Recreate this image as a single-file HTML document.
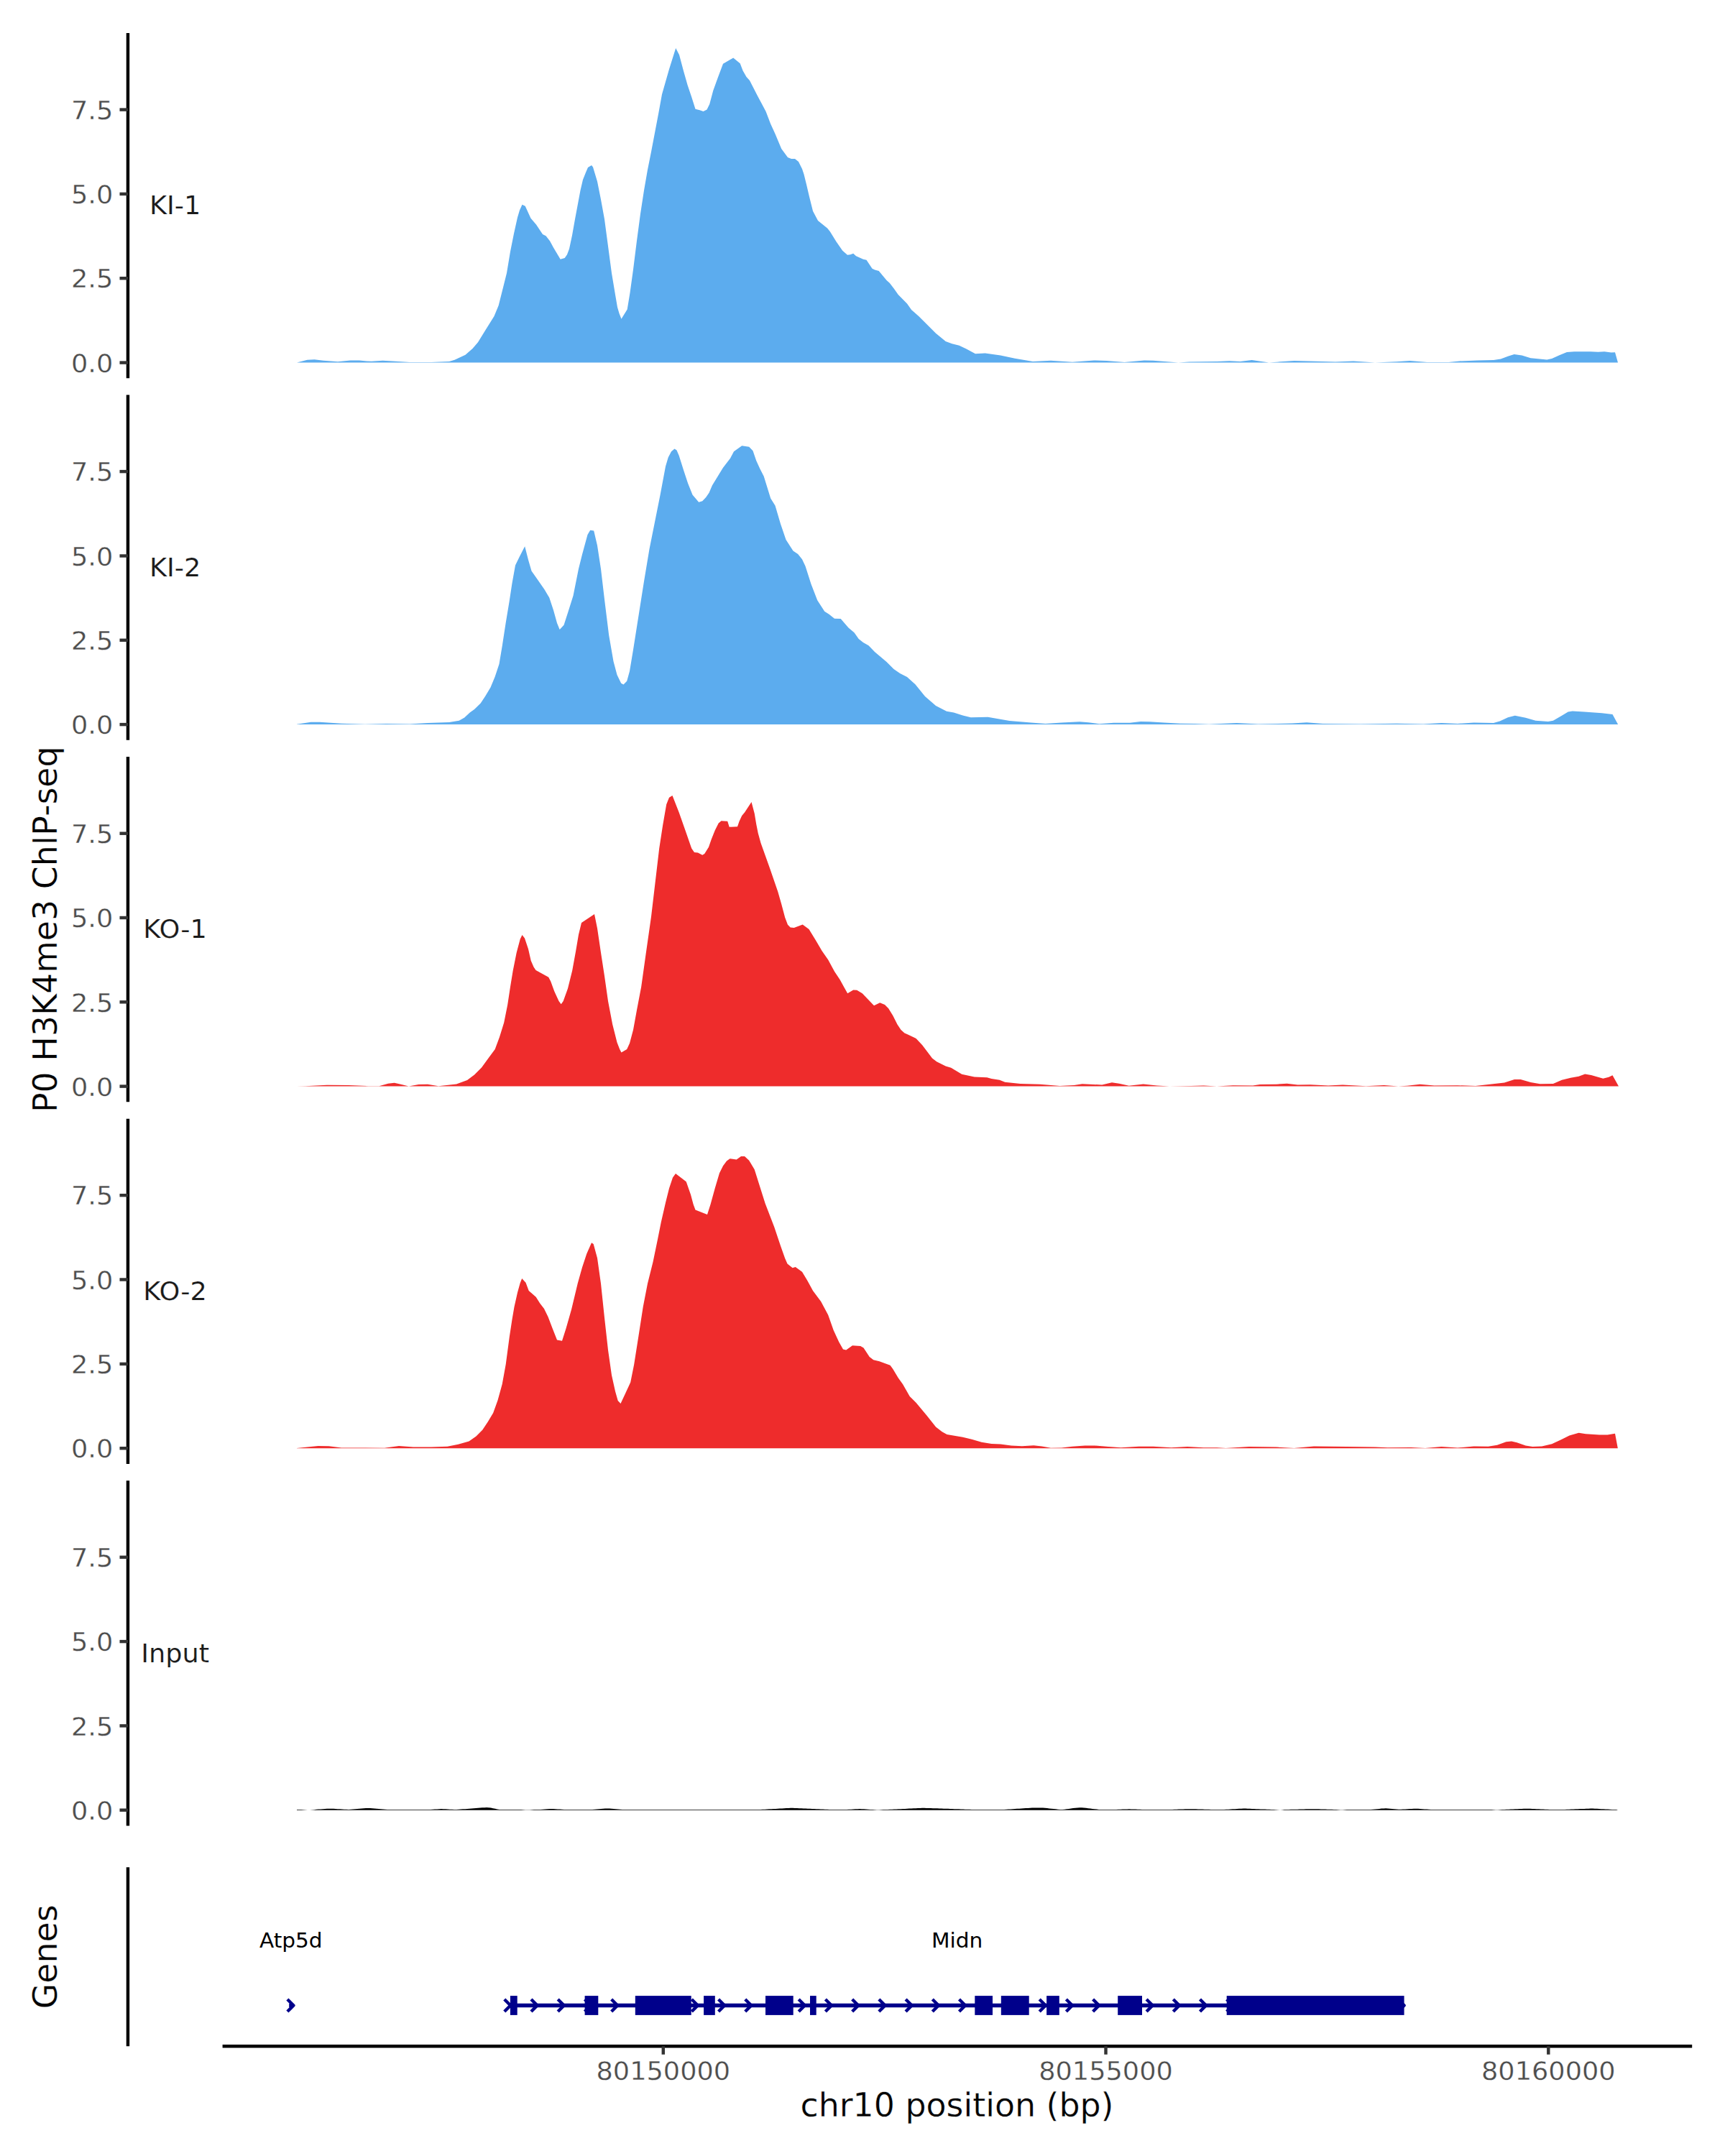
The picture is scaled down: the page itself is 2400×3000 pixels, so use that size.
<!DOCTYPE html>
<html lang="en"><head><meta charset="utf-8"><title>P0 H3K4me3 ChIP-seq coverage chr10</title>
<style>html,body{margin:0;padding:0;background:#fff}svg{display:block}text{font-family:"DejaVu Sans","Liberation Sans",sans-serif;stroke:#fff;stroke-width:0.3px;paint-order:fill stroke}</style></head><body>
<svg width="2400" height="3000" viewBox="0 0 2400 3000">
<rect width="2400" height="3000" fill="#fff"/>
<g id="track-KI-1">
<path d="M413.0 504.6 L413.0 504.5 L427.5 500.7 L437.5 500.2 L450.0 501.7 L470.0 503.2 L487.5 501.5 L500.0 501.5 L510.0 502.5 L517.0 502.7 L532.5 501.7 L550.0 502.7 L570.0 504.0 L600.0 504.0 L625.0 503.0 L632.5 500.7 L647.5 493.7 L657.5 485.0 L665.0 476.2 L675.0 460.0 L687.5 440.0 L693.7 425.0 L700.0 400.0 L705.0 380.0 L710.0 350.0 L715.0 325.0 L720.0 302.5 L723.0 292.5 L726.5 284.7 L730.7 286.7 L738.5 303.7 L746.0 312.5 L755.0 326.0 L759.5 328.2 L765.0 335.2 L770.0 344.5 L779.7 360.7 L785.7 359.0 L789.0 354.2 L792.0 346.2 L796.0 327.5 L800.0 305.0 L807.5 265.0 L811.0 250.0 L815.0 240.0 L818.0 233.0 L823.0 230.0 L825.0 232.5 L829.5 247.5 L831.0 252.5 L836.0 277.5 L841.0 305.0 L846.0 342.5 L851.0 380.0 L856.0 410.0 L859.0 427.5 L861.5 436.0 L864.5 443.7 L872.7 430.5 L876.5 407.5 L881.0 375.0 L886.0 335.0 L891.0 297.5 L896.0 265.0 L901.0 236.2 L906.0 211.2 L911.0 185.0 L916.0 158.7 L921.0 131.2 L931.0 96.2 L940.2 67.0 L945.0 76.2 L951.0 98.7 L956.7 118.7 L962.2 135.0 L967.5 151.7 L973.5 153.2 L978.5 155.0 L983.5 152.5 L987.2 145.0 L992.2 126.2 L998.5 108.7 L1006.0 88.7 L1020.2 80.5 L1029.7 88.2 L1033.5 98.2 L1038.5 107.0 L1043.0 112.0 L1053.5 132.5 L1065.5 155.0 L1072.2 172.5 L1078.5 186.2 L1087.2 207.0 L1096.0 219.0 L1101.0 221.0 L1106.0 221.0 L1111.0 225.0 L1116.0 235.0 L1118.5 242.5 L1122.2 257.5 L1126.0 273.7 L1131.0 293.7 L1138.0 307.0 L1151.0 317.5 L1154.7 322.0 L1163.5 336.2 L1172.2 348.7 L1179.0 354.7 L1183.0 354.2 L1187.2 352.7 L1191.0 356.2 L1201.0 360.7 L1205.5 361.7 L1213.5 373.7 L1217.2 375.5 L1222.7 377.0 L1233.5 390.0 L1237.7 393.7 L1243.5 401.2 L1249.7 410.0 L1262.0 422.5 L1268.2 431.2 L1278.2 440.0 L1292.0 453.7 L1302.0 463.7 L1315.7 475.0 L1324.5 478.2 L1334.5 480.7 L1344.5 485.5 L1357.0 492.2 L1370.7 491.5 L1392.0 494.5 L1412.0 498.7 L1437.0 503.0 L1462.0 501.7 L1492.0 503.7 L1522.0 501.5 L1539.5 502.0 L1564.5 504.0 L1592.0 501.5 L1604.5 501.7 L1639.5 504.5 L1654.5 503.5 L1693.0 503.0 L1710.5 502.2 L1725.5 503.0 L1741.7 501.0 L1765.5 504.5 L1800.5 502.0 L1830.5 502.7 L1858.0 503.5 L1883.0 502.5 L1913.0 504.5 L1943.0 503.2 L1961.7 502.0 L1985.5 504.0 L2015.5 504.0 L2030.5 502.5 L2055.5 501.5 L2078.0 501.0 L2088.0 499.5 L2098.0 495.7 L2106.7 493.0 L2117.4 494.4 L2129.6 498.3 L2152.2 500.5 L2159.1 499.1 L2169.6 494.3 L2180.0 490.1 L2190.4 489.2 L2213.0 489.2 L2223.5 489.7 L2232.2 489.2 L2241.7 490.6 L2247.0 490.3 L2251.0 504.4 L2251.0 504.6 Z" fill="#5CACEE"/>
<line x1="177.95" x2="177.95" y1="46.1" y2="526.3" stroke="#000" stroke-width="4.45"/>
<line x1="166.49" x2="177.95" y1="504.6" y2="504.6" stroke="#333" stroke-width="4.45"/>
<text transform="translate(157.3 517.8) scale(1 0.96)" font-size="36.67" fill="#4D4D4D" text-anchor="end">0.0</text>
<line x1="166.49" x2="177.95" y1="387.2" y2="387.2" stroke="#333" stroke-width="4.45"/>
<text transform="translate(157.3 400.4) scale(1 0.96)" font-size="36.67" fill="#4D4D4D" text-anchor="end">2.5</text>
<line x1="166.49" x2="177.95" y1="269.9" y2="269.9" stroke="#333" stroke-width="4.45"/>
<text transform="translate(157.3 283.1) scale(1 0.96)" font-size="36.67" fill="#4D4D4D" text-anchor="end">5.0</text>
<line x1="166.49" x2="177.95" y1="152.6" y2="152.6" stroke="#333" stroke-width="4.45"/>
<text transform="translate(157.3 165.8) scale(1 0.96)" font-size="36.67" fill="#4D4D4D" text-anchor="end">7.5</text>
<text transform="translate(243.6 298.4) scale(1 0.96)" style="stroke-width:0.15px" font-size="36.67" fill="#1A1A1A" text-anchor="middle">KI-1</text>
</g>
<g id="track-KI-2">
<path d="M413.0 1008.1 L413.0 1007.7 L432.5 1004.7 L445.0 1004.7 L475.0 1006.7 L507.5 1007.7 L537.5 1007.0 L570.0 1007.5 L595.0 1006.0 L625.0 1005.0 L638.7 1002.7 L646.2 998.5 L653.7 991.5 L660.0 987.0 L668.7 978.5 L675.0 969.0 L682.5 956.5 L688.7 941.5 L694.5 924.0 L698.7 899.0 L703.7 866.5 L708.7 836.5 L712.5 811.5 L717.0 786.5 L722.5 775.2 L730.2 760.2 L735.0 779.0 L739.5 794.5 L746.2 804.0 L757.5 820.2 L764.2 831.5 L770.0 849.0 L775.0 867.0 L778.7 876.0 L784.5 869.7 L790.0 852.7 L797.5 829.0 L805.0 791.5 L810.0 771.5 L817.5 744.0 L821.2 737.7 L826.2 738.5 L831.0 759.0 L836.0 791.5 L841.0 834.0 L847.2 884.0 L853.5 920.2 L858.5 939.0 L864.2 950.7 L867.5 952.5 L872.2 947.7 L876.0 934.0 L881.0 904.0 L888.5 856.5 L896.0 809.0 L903.5 764.0 L911.0 726.5 L918.5 689.0 L926.0 649.0 L929.7 636.5 L934.0 628.2 L938.5 624.5 L941.5 626.5 L944.7 634.0 L951.0 654.0 L957.2 672.7 L963.5 688.5 L972.2 698.7 L977.2 697.2 L982.2 692.0 L986.5 685.7 L991.0 675.2 L1006.0 650.7 L1016.0 637.7 L1021.0 628.2 L1032.2 620.2 L1042.2 621.7 L1047.5 627.2 L1052.2 641.0 L1057.2 652.0 L1062.7 662.7 L1072.2 693.5 L1078.5 703.5 L1086.0 729.0 L1093.5 751.0 L1103.5 766.5 L1110.2 771.0 L1116.0 778.2 L1120.5 787.7 L1128.5 812.7 L1137.2 835.2 L1147.2 850.7 L1153.5 854.7 L1161.0 860.7 L1169.7 861.0 L1180.5 873.5 L1188.5 880.2 L1194.7 889.0 L1201.0 894.0 L1208.5 898.2 L1217.2 907.2 L1233.5 921.0 L1243.5 931.0 L1252.2 937.0 L1262.0 942.0 L1273.2 952.0 L1287.0 969.0 L1302.0 982.0 L1317.0 989.7 L1327.0 991.5 L1339.5 995.5 L1350.7 998.2 L1374.5 997.7 L1404.5 1003.0 L1434.5 1005.5 L1454.5 1007.0 L1477.0 1005.5 L1502.0 1004.2 L1514.5 1005.2 L1529.5 1007.2 L1549.5 1005.7 L1572.0 1005.7 L1587.0 1004.0 L1599.5 1004.2 L1619.5 1005.5 L1642.0 1006.7 L1662.0 1007.0 L1682.0 1007.8 L1693.0 1007.2 L1720.5 1006.0 L1750.5 1007.5 L1798.0 1006.5 L1818.0 1005.2 L1840.5 1007.0 L1893.0 1007.5 L1943.0 1006.7 L1980.5 1007.5 L2005.5 1006.0 L2028.0 1007.0 L2050.5 1005.5 L2078.0 1006.0 L2086.7 1003.5 L2098.0 998.2 L2107.8 995.7 L2122.6 998.8 L2136.5 1002.8 L2153.9 1004.0 L2160.9 1002.8 L2173.0 995.8 L2181.7 990.6 L2187.8 989.4 L2204.3 990.6 L2228.7 992.2 L2243.5 994.1 L2251.0 1007.8 L2251.0 1008.1 Z" fill="#5CACEE"/>
<line x1="177.95" x2="177.95" y1="549.6" y2="1029.8" stroke="#000" stroke-width="4.45"/>
<line x1="166.49" x2="177.95" y1="1008.1" y2="1008.1" stroke="#333" stroke-width="4.45"/>
<text transform="translate(157.3 1021.3) scale(1 0.96)" font-size="36.67" fill="#4D4D4D" text-anchor="end">0.0</text>
<line x1="166.49" x2="177.95" y1="890.8" y2="890.8" stroke="#333" stroke-width="4.45"/>
<text transform="translate(157.3 904.0) scale(1 0.96)" font-size="36.67" fill="#4D4D4D" text-anchor="end">2.5</text>
<line x1="166.49" x2="177.95" y1="773.5" y2="773.5" stroke="#333" stroke-width="4.45"/>
<text transform="translate(157.3 786.7) scale(1 0.96)" font-size="36.67" fill="#4D4D4D" text-anchor="end">5.0</text>
<line x1="166.49" x2="177.95" y1="656.1" y2="656.1" stroke="#333" stroke-width="4.45"/>
<text transform="translate(157.3 669.3) scale(1 0.96)" font-size="36.67" fill="#4D4D4D" text-anchor="end">7.5</text>
<text transform="translate(243.6 801.9) scale(1 0.96)" style="stroke-width:0.15px" font-size="36.67" fill="#1A1A1A" text-anchor="middle">KI-2</text>
</g>
<g id="track-KO-1">
<path d="M413.0 1511.6 L413.0 1511.4 L425.0 1511.2 L455.0 1509.7 L485.0 1510.0 L512.5 1511.2 L527.5 1511.2 L540.0 1507.7 L548.7 1506.7 L557.5 1508.7 L568.7 1511.4 L582.5 1509.0 L595.0 1508.7 L610.0 1511.2 L635.0 1508.5 L650.0 1503.0 L660.0 1495.5 L670.0 1485.5 L680.0 1471.7 L688.7 1460.0 L695.0 1443.0 L701.2 1423.0 L706.2 1398.0 L710.0 1373.0 L713.7 1350.5 L718.7 1325.5 L723.7 1306.7 L726.5 1301.0 L730.0 1305.5 L735.0 1320.5 L738.7 1336.7 L742.5 1345.5 L745.5 1350.0 L763.2 1359.7 L766.2 1365.5 L771.2 1379.2 L777.5 1393.0 L780.7 1397.2 L783.7 1393.0 L790.0 1375.5 L796.2 1350.5 L801.2 1323.0 L805.0 1300.5 L809.0 1284.0 L827.0 1272.0 L831.0 1291.7 L836.0 1325.5 L841.0 1358.0 L846.0 1393.0 L852.2 1425.5 L858.5 1450.5 L862.2 1460.0 L864.5 1464.5 L872.2 1460.0 L876.0 1451.7 L881.0 1433.0 L886.0 1405.5 L892.2 1373.0 L898.5 1328.0 L906.0 1275.5 L912.2 1223.0 L917.2 1180.5 L922.2 1148.0 L927.2 1119.2 L931.0 1109.7 L935.5 1107.0 L944.7 1130.5 L953.5 1155.5 L962.2 1180.5 L966.0 1186.0 L971.0 1186.5 L977.2 1189.7 L980.2 1188.0 L986.0 1178.7 L989.7 1168.0 L994.7 1155.5 L999.7 1145.5 L1003.5 1142.2 L1012.2 1142.7 L1014.7 1150.7 L1026.0 1150.2 L1028.5 1143.0 L1032.2 1135.0 L1036.0 1130.5 L1045.5 1116.0 L1049.7 1131.7 L1052.2 1146.7 L1054.7 1159.2 L1058.5 1173.0 L1071.0 1208.0 L1082.2 1240.5 L1087.2 1258.0 L1092.2 1276.7 L1096.0 1286.7 L1099.7 1290.5 L1104.7 1291.0 L1116.7 1286.5 L1125.5 1293.0 L1134.7 1308.0 L1143.5 1323.0 L1152.2 1335.5 L1161.0 1351.7 L1168.5 1363.0 L1174.7 1374.2 L1179.2 1382.2 L1187.2 1377.5 L1192.2 1377.7 L1199.7 1382.2 L1216.0 1399.2 L1224.2 1395.2 L1231.0 1398.0 L1236.0 1403.0 L1242.2 1413.0 L1248.5 1425.5 L1253.5 1433.0 L1258.5 1437.5 L1262.0 1439.0 L1274.5 1445.0 L1283.2 1454.2 L1297.0 1472.5 L1303.2 1477.2 L1315.7 1483.5 L1323.2 1485.7 L1338.2 1494.7 L1355.7 1498.5 L1373.2 1499.2 L1379.5 1501.0 L1390.7 1502.7 L1398.2 1505.7 L1419.5 1508.0 L1447.0 1508.7 L1474.5 1511.0 L1494.5 1510.0 L1505.7 1508.2 L1533.2 1509.5 L1547.0 1506.2 L1557.0 1507.7 L1570.7 1510.7 L1590.7 1508.5 L1609.5 1510.5 L1627.0 1511.4 L1657.0 1511.0 L1674.5 1510.5 L1693.0 1511.4 L1715.5 1510.2 L1743.0 1510.5 L1753.0 1509.0 L1775.5 1508.7 L1790.5 1507.7 L1805.5 1509.5 L1823.0 1509.2 L1848.0 1510.5 L1868.0 1509.5 L1900.5 1511.2 L1925.5 1510.0 L1945.5 1511.4 L1958.0 1510.7 L1975.5 1508.7 L1995.5 1510.5 L2028.0 1510.2 L2053.0 1511.0 L2073.0 1508.7 L2093.0 1506.5 L2100.0 1504.2 L2107.0 1502.1 L2115.7 1501.9 L2129.6 1505.9 L2142.6 1508.2 L2160.9 1508.0 L2173.0 1502.8 L2185.2 1499.8 L2196.5 1497.7 L2205.2 1494.6 L2213.9 1496.0 L2230.4 1500.7 L2238.3 1498.8 L2243.5 1496.3 L2252.0 1511.4 L2252.0 1511.6 Z" fill="#EE2C2C"/>
<line x1="177.95" x2="177.95" y1="1053.1" y2="1533.3" stroke="#000" stroke-width="4.45"/>
<line x1="166.49" x2="177.95" y1="1511.6" y2="1511.6" stroke="#333" stroke-width="4.45"/>
<text transform="translate(157.3 1524.8) scale(1 0.96)" font-size="36.67" fill="#4D4D4D" text-anchor="end">0.0</text>
<line x1="166.49" x2="177.95" y1="1394.3" y2="1394.3" stroke="#333" stroke-width="4.45"/>
<text transform="translate(157.3 1407.5) scale(1 0.96)" font-size="36.67" fill="#4D4D4D" text-anchor="end">2.5</text>
<line x1="166.49" x2="177.95" y1="1277.0" y2="1277.0" stroke="#333" stroke-width="4.45"/>
<text transform="translate(157.3 1290.2) scale(1 0.96)" font-size="36.67" fill="#4D4D4D" text-anchor="end">5.0</text>
<line x1="166.49" x2="177.95" y1="1159.7" y2="1159.7" stroke="#333" stroke-width="4.45"/>
<text transform="translate(157.3 1172.9) scale(1 0.96)" font-size="36.67" fill="#4D4D4D" text-anchor="end">7.5</text>
<text transform="translate(243.6 1305.4) scale(1 0.96)" style="stroke-width:0.15px" font-size="36.67" fill="#1A1A1A" text-anchor="middle">KO-1</text>
</g>
<g id="track-KO-2">
<path d="M413.0 2015.2 L413.0 2015.0 L442.5 2012.0 L457.5 2012.2 L475.0 2014.5 L535.0 2014.7 L555.0 2012.0 L575.0 2013.5 L600.0 2013.5 L622.5 2012.7 L637.5 2009.7 L652.5 2005.5 L662.5 1998.5 L671.2 1989.7 L678.7 1978.5 L686.2 1966.0 L692.5 1948.5 L698.7 1926.0 L703.7 1898.5 L708.7 1861.0 L712.5 1836.0 L715.5 1818.5 L720.0 1798.5 L723.7 1785.2 L726.2 1779.0 L731.5 1784.7 L735.7 1796.0 L745.7 1804.7 L751.2 1813.5 L757.0 1821.0 L762.5 1832.2 L768.7 1848.5 L775.0 1864.5 L782.0 1865.7 L787.5 1848.5 L795.0 1822.2 L803.7 1786.0 L810.0 1763.5 L816.2 1744.7 L823.0 1729.2 L825.7 1731.0 L831.0 1750.5 L836.0 1786.0 L841.0 1833.5 L846.0 1878.5 L851.0 1913.5 L856.0 1936.0 L859.7 1949.0 L863.5 1953.0 L869.7 1939.7 L877.2 1923.5 L882.2 1898.5 L888.5 1858.5 L894.7 1818.5 L901.0 1786.0 L908.5 1756.0 L914.7 1726.0 L919.7 1701.0 L926.0 1673.5 L931.0 1653.5 L936.0 1638.5 L940.0 1633.0 L954.7 1644.2 L961.0 1662.2 L964.7 1676.0 L967.5 1683.5 L984.0 1690.0 L988.5 1676.0 L994.7 1653.5 L1001.0 1632.2 L1006.0 1622.2 L1011.0 1615.5 L1015.5 1612.2 L1024.7 1613.5 L1031.0 1609.0 L1036.0 1609.0 L1042.2 1614.7 L1049.7 1627.2 L1056.0 1647.2 L1064.7 1674.7 L1077.2 1707.2 L1086.0 1733.5 L1092.2 1751.0 L1095.5 1758.5 L1102.7 1764.2 L1106.7 1763.0 L1116.0 1769.7 L1123.5 1782.2 L1131.0 1796.0 L1142.2 1811.0 L1152.2 1829.7 L1159.7 1851.0 L1167.2 1867.2 L1173.0 1877.5 L1177.2 1878.5 L1186.0 1872.2 L1197.2 1873.0 L1201.5 1875.5 L1209.7 1888.0 L1215.2 1892.2 L1223.5 1894.2 L1238.5 1899.7 L1242.2 1904.7 L1249.7 1917.2 L1256.0 1926.0 L1262.0 1936.5 L1265.7 1943.0 L1274.5 1951.7 L1289.5 1969.7 L1302.0 1985.5 L1310.7 1992.2 L1317.5 1996.0 L1339.5 1999.7 L1352.0 2002.7 L1365.7 2006.7 L1379.5 2009.0 L1392.0 2009.5 L1407.0 2011.5 L1422.0 2012.2 L1438.2 2011.2 L1449.5 2012.5 L1462.0 2014.7 L1477.0 2014.5 L1492.0 2012.7 L1509.5 2011.5 L1523.2 2011.5 L1542.0 2013.0 L1559.5 2014.2 L1584.5 2012.7 L1604.5 2012.7 L1629.5 2014.2 L1652.0 2013.0 L1674.5 2014.2 L1693.0 2014.3 L1705.5 2015.0 L1738.0 2013.0 L1775.5 2013.5 L1800.5 2015.0 L1828.0 2012.5 L1873.0 2013.0 L1913.0 2013.5 L1930.5 2014.2 L1963.0 2014.0 L1983.0 2015.0 L2005.5 2013.0 L2028.0 2014.5 L2050.5 2012.5 L2070.5 2012.7 L2083.0 2010.7 L2095.5 2006.2 L2103.0 2005.6 L2110.5 2007.2 L2122.6 2011.5 L2132.2 2013.1 L2145.2 2012.6 L2159.1 2009.3 L2173.0 2002.8 L2183.5 1997.6 L2196.5 1993.8 L2206.1 1995.2 L2225.2 1996.6 L2236.5 1996.6 L2247.0 1994.8 L2250.8 2015.0 L2250.8 2015.2 Z" fill="#EE2C2C"/>
<line x1="177.95" x2="177.95" y1="1556.7" y2="2036.9" stroke="#000" stroke-width="4.45"/>
<line x1="166.49" x2="177.95" y1="2015.2" y2="2015.2" stroke="#333" stroke-width="4.45"/>
<text transform="translate(157.3 2028.4) scale(1 0.96)" font-size="36.67" fill="#4D4D4D" text-anchor="end">0.0</text>
<line x1="166.49" x2="177.95" y1="1897.9" y2="1897.9" stroke="#333" stroke-width="4.45"/>
<text transform="translate(157.3 1911.1) scale(1 0.96)" font-size="36.67" fill="#4D4D4D" text-anchor="end">2.5</text>
<line x1="166.49" x2="177.95" y1="1780.5" y2="1780.5" stroke="#333" stroke-width="4.45"/>
<text transform="translate(157.3 1793.7) scale(1 0.96)" font-size="36.67" fill="#4D4D4D" text-anchor="end">5.0</text>
<line x1="166.49" x2="177.95" y1="1663.2" y2="1663.2" stroke="#333" stroke-width="4.45"/>
<text transform="translate(157.3 1676.4) scale(1 0.96)" font-size="36.67" fill="#4D4D4D" text-anchor="end">7.5</text>
<text transform="translate(243.6 1809.0) scale(1 0.96)" style="stroke-width:0.15px" font-size="36.67" fill="#1A1A1A" text-anchor="middle">KO-2</text>
</g>
<g id="track-Input">
<path d="M413 2518.83 L413 2518.11 L416 2518.11 L419 2518.11 L422 2518.19 L425 2518.43 L428 2518.67 L431 2518.83 L434 2518.57 L437 2518.23 L440 2517.83 L443 2517.62 L446 2517.41 L449 2517.19 L452 2516.98 L455 2516.77 L458 2516.64 L461 2516.63 L464 2516.76 L467 2516.94 L470 2517.13 L473 2517.31 L476 2517.50 L479 2517.68 L482 2517.86 L485 2517.94 L488 2517.86 L491 2517.62 L494 2517.33 L497 2517.04 L500 2516.75 L503 2516.46 L506 2516.17 L509 2515.96 L512 2515.93 L515 2516.07 L518 2516.30 L521 2516.52 L524 2516.75 L527 2516.98 L530 2517.20 L533 2517.43 L536 2517.66 L539 2517.88 L542 2518.03 L545 2518.10 L548 2518.11 L551 2518.11 L554 2518.11 L557 2518.11 L560 2518.11 L563 2518.11 L566 2518.11 L569 2518.11 L572 2518.11 L575 2518.11 L578 2518.11 L581 2518.11 L584 2518.11 L587 2518.11 L590 2518.11 L593 2518.11 L596 2518.09 L599 2517.99 L602 2517.82 L605 2517.60 L608 2517.38 L611 2517.19 L614 2517.11 L617 2517.16 L620 2517.31 L623 2517.48 L626 2517.66 L629 2517.83 L632 2517.95 L635 2517.95 L638 2517.81 L641 2517.59 L644 2517.37 L647 2517.15 L650 2516.92 L653 2516.70 L656 2516.48 L659 2516.26 L662 2516.03 L665 2515.81 L668 2515.59 L671 2515.36 L674 2515.17 L677 2515.04 L680 2515.15 L683 2515.52 L686 2516.13 L689 2516.81 L692 2517.46 L695 2517.89 L698 2518.09 L701 2518.11 L704 2518.11 L707 2518.11 L710 2518.11 L713 2518.11 L716 2518.11 L719 2518.11 L722 2518.11 L725 2518.11 L728 2518.19 L731 2518.43 L734 2518.59 L737 2518.51 L740 2518.27 L743 2518.11 L746 2518.11 L749 2518.10 L752 2518.01 L755 2517.84 L758 2517.58 L761 2517.32 L764 2517.10 L767 2517.03 L770 2517.10 L773 2517.27 L776 2517.44 L779 2517.61 L782 2517.77 L785 2517.94 L788 2518.05 L791 2518.10 L794 2518.11 L797 2518.11 L800 2518.11 L803 2518.11 L806 2518.11 L809 2518.11 L812 2518.11 L815 2518.11 L818 2518.11 L821 2518.10 L824 2518.01 L827 2517.84 L830 2517.59 L833 2517.34 L836 2517.08 L839 2516.82 L842 2516.58 L845 2516.49 L848 2516.57 L851 2516.80 L854 2517.04 L857 2517.29 L860 2517.54 L863 2517.78 L866 2517.97 L869 2518.08 L872 2518.11 L875 2518.11 L878 2518.11 L881 2518.11 L884 2518.11 L887 2518.11 L890 2518.11 L893 2518.11 L896 2518.11 L899 2518.11 L902 2518.11 L905 2518.11 L908 2518.11 L911 2518.11 L914 2518.11 L917 2518.11 L920 2518.11 L923 2518.11 L926 2518.11 L929 2518.11 L932 2518.11 L935 2518.11 L938 2518.11 L941 2518.11 L944 2518.11 L947 2518.11 L950 2518.11 L953 2518.11 L956 2518.11 L959 2518.11 L962 2518.11 L965 2518.11 L968 2518.11 L971 2518.11 L974 2518.11 L977 2518.11 L980 2518.11 L983 2518.11 L986 2518.11 L989 2518.11 L992 2518.11 L995 2518.11 L998 2518.11 L1001 2518.11 L1004 2518.11 L1007 2518.11 L1010 2518.11 L1013 2518.11 L1016 2518.11 L1019 2518.11 L1022 2518.11 L1025 2518.11 L1028 2518.11 L1031 2518.11 L1034 2518.11 L1037 2518.11 L1040 2518.11 L1043 2518.11 L1046 2518.11 L1049 2518.11 L1052 2518.11 L1055 2518.07 L1058 2517.99 L1061 2517.85 L1064 2517.69 L1067 2517.53 L1070 2517.37 L1073 2517.21 L1076 2517.05 L1079 2516.89 L1082 2516.74 L1085 2516.58 L1088 2516.42 L1091 2516.26 L1094 2516.10 L1097 2515.94 L1100 2515.85 L1103 2515.85 L1106 2515.95 L1109 2516.07 L1112 2516.20 L1115 2516.33 L1118 2516.46 L1121 2516.59 L1124 2516.72 L1127 2516.84 L1130 2516.97 L1133 2517.10 L1136 2517.23 L1139 2517.36 L1142 2517.49 L1145 2517.61 L1148 2517.74 L1151 2517.87 L1154 2517.99 L1157 2518.07 L1160 2518.11 L1163 2518.11 L1166 2518.11 L1169 2518.11 L1172 2518.10 L1175 2518.04 L1178 2517.94 L1181 2517.80 L1184 2517.65 L1187 2517.50 L1190 2517.35 L1193 2517.21 L1196 2517.11 L1199 2517.15 L1202 2517.33 L1205 2517.60 L1208 2517.86 L1211 2518.03 L1214 2518.10 L1217 2518.35 L1220 2518.51 L1223 2518.51 L1226 2518.27 L1229 2518.10 L1232 2518.06 L1235 2517.97 L1238 2517.84 L1241 2517.70 L1244 2517.56 L1247 2517.42 L1250 2517.29 L1253 2517.15 L1256 2517.01 L1259 2516.88 L1262 2516.74 L1265 2516.60 L1268 2516.46 L1271 2516.33 L1274 2516.19 L1277 2516.05 L1280 2515.91 L1283 2515.83 L1286 2515.82 L1289 2515.89 L1292 2515.99 L1295 2516.09 L1298 2516.18 L1301 2516.28 L1304 2516.37 L1307 2516.47 L1310 2516.57 L1313 2516.66 L1316 2516.76 L1319 2516.86 L1322 2516.95 L1325 2517.05 L1328 2517.15 L1331 2517.24 L1334 2517.34 L1337 2517.44 L1340 2517.53 L1343 2517.63 L1346 2517.72 L1349 2517.82 L1352 2517.92 L1355 2518.01 L1358 2518.07 L1361 2518.11 L1364 2518.11 L1367 2518.11 L1370 2518.11 L1373 2518.11 L1376 2518.11 L1379 2518.11 L1382 2518.11 L1385 2518.11 L1388 2518.11 L1391 2518.10 L1394 2518.04 L1397 2517.92 L1400 2517.74 L1403 2517.56 L1406 2517.38 L1409 2517.19 L1412 2517.01 L1415 2516.83 L1418 2516.65 L1421 2516.46 L1424 2516.28 L1427 2516.10 L1430 2515.91 L1433 2515.73 L1436 2515.59 L1439 2515.51 L1442 2515.49 L1445 2515.49 L1448 2515.50 L1451 2515.60 L1454 2515.81 L1457 2516.10 L1460 2516.41 L1463 2516.72 L1466 2517.03 L1469 2517.34 L1472 2517.65 L1475 2517.89 L1478 2517.91 L1481 2517.69 L1484 2517.30 L1487 2516.90 L1490 2516.50 L1493 2516.10 L1496 2515.69 L1499 2515.38 L1502 2515.20 L1505 2515.24 L1508 2515.44 L1511 2515.77 L1514 2516.14 L1517 2516.51 L1520 2516.88 L1523 2517.25 L1526 2517.62 L1529 2517.90 L1532 2518.07 L1535 2518.11 L1538 2518.11 L1541 2518.11 L1544 2518.11 L1547 2518.09 L1550 2518.02 L1553 2517.92 L1556 2517.81 L1559 2517.70 L1562 2517.59 L1565 2517.48 L1568 2517.39 L1571 2517.37 L1574 2517.42 L1577 2517.52 L1580 2517.62 L1583 2517.72 L1586 2517.81 L1589 2517.91 L1592 2518.01 L1595 2518.07 L1598 2518.11 L1601 2518.11 L1604 2518.11 L1607 2518.11 L1610 2518.11 L1613 2518.11 L1616 2518.11 L1619 2518.11 L1622 2518.10 L1625 2518.06 L1628 2517.98 L1631 2517.89 L1634 2517.79 L1637 2517.70 L1640 2517.60 L1643 2517.51 L1646 2517.41 L1649 2517.32 L1652 2517.23 L1655 2517.19 L1658 2517.21 L1661 2517.28 L1664 2517.35 L1667 2517.43 L1670 2517.50 L1673 2517.58 L1676 2517.66 L1679 2517.73 L1682 2517.81 L1685 2517.88 L1688 2517.96 L1691 2518.03 L1694 2518.08 L1697 2518.11 L1700 2518.07 L1703 2517.98 L1706 2517.83 L1709 2517.66 L1712 2517.49 L1715 2517.32 L1718 2517.15 L1721 2516.98 L1724 2516.81 L1727 2516.65 L1730 2516.58 L1733 2516.59 L1736 2516.70 L1739 2516.81 L1742 2516.93 L1745 2517.04 L1748 2517.16 L1751 2517.27 L1754 2517.39 L1757 2517.50 L1760 2517.61 L1763 2517.73 L1766 2517.84 L1769 2517.96 L1772 2518.05 L1775 2518.34 L1778 2518.59 L1781 2518.67 L1784 2518.40 L1787 2518.12 L1790 2517.97 L1793 2517.90 L1796 2517.84 L1799 2517.77 L1802 2517.70 L1805 2517.63 L1808 2517.56 L1811 2517.49 L1814 2517.42 L1817 2517.35 L1820 2517.29 L1823 2517.22 L1826 2517.18 L1829 2517.20 L1832 2517.26 L1835 2517.34 L1838 2517.43 L1841 2517.51 L1844 2517.59 L1847 2517.67 L1850 2517.75 L1853 2517.84 L1856 2517.92 L1859 2518.00 L1862 2518.30 L1865 2518.58 L1868 2518.59 L1871 2518.35 L1874 2518.11 L1877 2518.11 L1880 2518.11 L1883 2518.11 L1886 2518.11 L1889 2518.11 L1892 2518.11 L1895 2518.11 L1898 2518.11 L1901 2518.11 L1904 2518.05 L1907 2517.91 L1910 2517.67 L1913 2517.41 L1916 2517.15 L1919 2516.89 L1922 2516.62 L1925 2516.40 L1928 2516.35 L1931 2516.47 L1934 2516.74 L1937 2517.01 L1940 2517.29 L1943 2517.54 L1946 2517.67 L1949 2517.66 L1952 2517.53 L1955 2517.39 L1958 2517.24 L1961 2517.10 L1964 2516.96 L1967 2516.82 L1970 2516.76 L1973 2516.82 L1976 2517.00 L1979 2517.21 L1982 2517.42 L1985 2517.62 L1988 2517.83 L1991 2517.99 L1994 2518.09 L1997 2518.11 L2000 2518.11 L2003 2518.11 L2006 2518.11 L2009 2518.11 L2012 2518.11 L2015 2518.11 L2018 2518.11 L2021 2518.11 L2024 2518.11 L2027 2518.11 L2030 2518.11 L2033 2518.11 L2036 2518.11 L2039 2518.11 L2042 2518.11 L2045 2518.11 L2048 2518.11 L2051 2518.11 L2054 2518.11 L2057 2518.11 L2060 2518.11 L2063 2518.11 L2066 2518.11 L2069 2518.11 L2072 2518.11 L2075 2518.11 L2078 2518.35 L2081 2518.59 L2084 2518.59 L2087 2518.34 L2090 2518.04 L2093 2517.95 L2096 2517.82 L2099 2517.70 L2102 2517.58 L2105 2517.45 L2108 2517.33 L2111 2517.21 L2114 2517.09 L2117 2516.96 L2120 2516.84 L2123 2516.74 L2126 2516.73 L2129 2516.80 L2132 2516.92 L2135 2517.04 L2138 2517.17 L2141 2517.29 L2144 2517.41 L2147 2517.54 L2150 2517.66 L2153 2517.78 L2156 2517.90 L2159 2518.01 L2162 2518.08 L2165 2518.11 L2168 2518.11 L2171 2518.08 L2174 2518.02 L2177 2517.92 L2180 2517.80 L2183 2517.69 L2186 2517.58 L2189 2517.46 L2192 2517.35 L2195 2517.23 L2198 2517.12 L2201 2517.00 L2204 2516.89 L2207 2516.78 L2210 2516.66 L2213 2516.58 L2216 2516.58 L2219 2516.67 L2222 2516.82 L2225 2516.97 L2228 2517.13 L2231 2517.28 L2234 2517.43 L2237 2517.58 L2240 2517.73 L2243 2517.88 L2246 2518.01 L2249 2518.08 L2251 2518.83 Z" fill="#000"/>
<line x1="177.95" x2="177.95" y1="2060.2" y2="2540.4" stroke="#000" stroke-width="4.45"/>
<line x1="166.49" x2="177.95" y1="2518.7" y2="2518.7" stroke="#333" stroke-width="4.45"/>
<text transform="translate(157.3 2531.9) scale(1 0.96)" font-size="36.67" fill="#4D4D4D" text-anchor="end">0.0</text>
<line x1="166.49" x2="177.95" y1="2401.4" y2="2401.4" stroke="#333" stroke-width="4.45"/>
<text transform="translate(157.3 2414.6) scale(1 0.96)" font-size="36.67" fill="#4D4D4D" text-anchor="end">2.5</text>
<line x1="166.49" x2="177.95" y1="2284.1" y2="2284.1" stroke="#333" stroke-width="4.45"/>
<text transform="translate(157.3 2297.3) scale(1 0.96)" font-size="36.67" fill="#4D4D4D" text-anchor="end">5.0</text>
<line x1="166.49" x2="177.95" y1="2166.8" y2="2166.8" stroke="#333" stroke-width="4.45"/>
<text transform="translate(157.3 2180.0) scale(1 0.96)" font-size="36.67" fill="#4D4D4D" text-anchor="end">7.5</text>
<text transform="translate(243.6 2312.5) scale(1 0.96)" style="stroke-width:0.15px" font-size="36.67" fill="#1A1A1A" text-anchor="middle">Input</text>
</g>
<text transform="translate(78.8 1293.2) rotate(-90) scale(1 1.0)" font-size="45.83" fill="#000" text-anchor="middle">P0 H3K4me3 ChIP-seq</text>
<text transform="translate(79.3 2722.8) rotate(-90) scale(1 1.0)" font-size="45.83" fill="#000" text-anchor="middle">Genes</text>
<g id="genes">
<line x1="177.95" x2="177.95" y1="2598.3" y2="2847.3" stroke="#000" stroke-width="4.45"/>
<path d="M399.9 2782.0 L408.4 2790.5 L399.9 2799.0" fill="none" stroke="#00008B" stroke-width="4.45" stroke-linejoin="round" stroke-linecap="butt"/>
<line x1="402.2" x2="408.4" y1="2790.5" y2="2790.5" stroke="#00008B" stroke-width="5"/>
<line x1="709.9" x2="1953.6" y1="2790.5" y2="2790.5" stroke="#00008B" stroke-width="5.4"/>
<path d="M701.8 2782.0 L710.3 2790.5 L701.8 2799.0" fill="none" stroke="#00008B" stroke-width="4.45" stroke-linejoin="round" stroke-linecap="butt"/>
<path d="M739.0 2782.0 L747.5 2790.5 L739.0 2799.0" fill="none" stroke="#00008B" stroke-width="4.45" stroke-linejoin="round" stroke-linecap="butt"/>
<path d="M776.2 2782.0 L784.7 2790.5 L776.2 2799.0" fill="none" stroke="#00008B" stroke-width="4.45" stroke-linejoin="round" stroke-linecap="butt"/>
<path d="M813.5 2782.0 L822.0 2790.5 L813.5 2799.0" fill="none" stroke="#00008B" stroke-width="4.45" stroke-linejoin="round" stroke-linecap="butt"/>
<path d="M850.7 2782.0 L859.2 2790.5 L850.7 2799.0" fill="none" stroke="#00008B" stroke-width="4.45" stroke-linejoin="round" stroke-linecap="butt"/>
<path d="M887.9 2782.0 L896.4 2790.5 L887.9 2799.0" fill="none" stroke="#00008B" stroke-width="4.45" stroke-linejoin="round" stroke-linecap="butt"/>
<path d="M925.1 2782.0 L933.6 2790.5 L925.1 2799.0" fill="none" stroke="#00008B" stroke-width="4.45" stroke-linejoin="round" stroke-linecap="butt"/>
<path d="M962.3 2782.0 L970.8 2790.5 L962.3 2799.0" fill="none" stroke="#00008B" stroke-width="4.45" stroke-linejoin="round" stroke-linecap="butt"/>
<path d="M999.6 2782.0 L1008.1 2790.5 L999.6 2799.0" fill="none" stroke="#00008B" stroke-width="4.45" stroke-linejoin="round" stroke-linecap="butt"/>
<path d="M1036.8 2782.0 L1045.3 2790.5 L1036.8 2799.0" fill="none" stroke="#00008B" stroke-width="4.45" stroke-linejoin="round" stroke-linecap="butt"/>
<path d="M1074.0 2782.0 L1082.5 2790.5 L1074.0 2799.0" fill="none" stroke="#00008B" stroke-width="4.45" stroke-linejoin="round" stroke-linecap="butt"/>
<path d="M1111.2 2782.0 L1119.7 2790.5 L1111.2 2799.0" fill="none" stroke="#00008B" stroke-width="4.45" stroke-linejoin="round" stroke-linecap="butt"/>
<path d="M1148.4 2782.0 L1156.9 2790.5 L1148.4 2799.0" fill="none" stroke="#00008B" stroke-width="4.45" stroke-linejoin="round" stroke-linecap="butt"/>
<path d="M1185.7 2782.0 L1194.2 2790.5 L1185.7 2799.0" fill="none" stroke="#00008B" stroke-width="4.45" stroke-linejoin="round" stroke-linecap="butt"/>
<path d="M1222.9 2782.0 L1231.4 2790.5 L1222.9 2799.0" fill="none" stroke="#00008B" stroke-width="4.45" stroke-linejoin="round" stroke-linecap="butt"/>
<path d="M1260.1 2782.0 L1268.6 2790.5 L1260.1 2799.0" fill="none" stroke="#00008B" stroke-width="4.45" stroke-linejoin="round" stroke-linecap="butt"/>
<path d="M1297.3 2782.0 L1305.8 2790.5 L1297.3 2799.0" fill="none" stroke="#00008B" stroke-width="4.45" stroke-linejoin="round" stroke-linecap="butt"/>
<path d="M1334.5 2782.0 L1343.0 2790.5 L1334.5 2799.0" fill="none" stroke="#00008B" stroke-width="4.45" stroke-linejoin="round" stroke-linecap="butt"/>
<path d="M1371.8 2782.0 L1380.3 2790.5 L1371.8 2799.0" fill="none" stroke="#00008B" stroke-width="4.45" stroke-linejoin="round" stroke-linecap="butt"/>
<path d="M1409.0 2782.0 L1417.5 2790.5 L1409.0 2799.0" fill="none" stroke="#00008B" stroke-width="4.45" stroke-linejoin="round" stroke-linecap="butt"/>
<path d="M1446.2 2782.0 L1454.7 2790.5 L1446.2 2799.0" fill="none" stroke="#00008B" stroke-width="4.45" stroke-linejoin="round" stroke-linecap="butt"/>
<path d="M1483.4 2782.0 L1491.9 2790.5 L1483.4 2799.0" fill="none" stroke="#00008B" stroke-width="4.45" stroke-linejoin="round" stroke-linecap="butt"/>
<path d="M1520.6 2782.0 L1529.1 2790.5 L1520.6 2799.0" fill="none" stroke="#00008B" stroke-width="4.45" stroke-linejoin="round" stroke-linecap="butt"/>
<path d="M1557.9 2782.0 L1566.4 2790.5 L1557.9 2799.0" fill="none" stroke="#00008B" stroke-width="4.45" stroke-linejoin="round" stroke-linecap="butt"/>
<path d="M1595.1 2782.0 L1603.6 2790.5 L1595.1 2799.0" fill="none" stroke="#00008B" stroke-width="4.45" stroke-linejoin="round" stroke-linecap="butt"/>
<path d="M1632.3 2782.0 L1640.8 2790.5 L1632.3 2799.0" fill="none" stroke="#00008B" stroke-width="4.45" stroke-linejoin="round" stroke-linecap="butt"/>
<path d="M1669.5 2782.0 L1678.0 2790.5 L1669.5 2799.0" fill="none" stroke="#00008B" stroke-width="4.45" stroke-linejoin="round" stroke-linecap="butt"/>
<path d="M1706.7 2782.0 L1715.2 2790.5 L1706.7 2799.0" fill="none" stroke="#00008B" stroke-width="4.45" stroke-linejoin="round" stroke-linecap="butt"/>
<path d="M1744.0 2782.0 L1752.5 2790.5 L1744.0 2799.0" fill="none" stroke="#00008B" stroke-width="4.45" stroke-linejoin="round" stroke-linecap="butt"/>
<path d="M1781.2 2782.0 L1789.7 2790.5 L1781.2 2799.0" fill="none" stroke="#00008B" stroke-width="4.45" stroke-linejoin="round" stroke-linecap="butt"/>
<path d="M1818.4 2782.0 L1826.9 2790.5 L1818.4 2799.0" fill="none" stroke="#00008B" stroke-width="4.45" stroke-linejoin="round" stroke-linecap="butt"/>
<path d="M1855.6 2782.0 L1864.1 2790.5 L1855.6 2799.0" fill="none" stroke="#00008B" stroke-width="4.45" stroke-linejoin="round" stroke-linecap="butt"/>
<path d="M1892.8 2782.0 L1901.3 2790.5 L1892.8 2799.0" fill="none" stroke="#00008B" stroke-width="4.45" stroke-linejoin="round" stroke-linecap="butt"/>
<path d="M1930.1 2782.0 L1938.6 2790.5 L1930.1 2799.0" fill="none" stroke="#00008B" stroke-width="4.45" stroke-linejoin="round" stroke-linecap="butt"/>
<path d="M1945.1 2782.0 L1953.6 2790.5 L1945.1 2799.0" fill="none" stroke="#00008B" stroke-width="4.45" stroke-linejoin="round" stroke-linecap="butt"/>
<rect x="709.9" y="2777.1" width="9.8" height="26.8" fill="#00008B"/>
<rect x="813.6" y="2777.1" width="18.7" height="26.8" fill="#00008B"/>
<rect x="883.8" y="2777.1" width="77.9" height="26.8" fill="#00008B"/>
<rect x="979.1" y="2777.1" width="15.7" height="26.8" fill="#00008B"/>
<rect x="1065" y="2777.1" width="38.7" height="26.8" fill="#00008B"/>
<rect x="1127" y="2777.1" width="8.7" height="26.8" fill="#00008B"/>
<rect x="1356.3" y="2777.1" width="24.7" height="26.8" fill="#00008B"/>
<rect x="1392.8" y="2777.1" width="38.9" height="26.8" fill="#00008B"/>
<rect x="1456.1" y="2777.1" width="17.7" height="26.8" fill="#00008B"/>
<rect x="1555.2" y="2777.1" width="33.8" height="26.8" fill="#00008B"/>
<rect x="1706.7" y="2777.1" width="246.9" height="26.8" fill="#00008B"/>
<text transform="translate(404.8 2710.2) scale(1 0.95)" style="stroke:none" font-size="29.6" fill="#000" text-anchor="middle">Atp5d</text>
<text transform="translate(1331.7 2709.8) scale(1 0.95)" style="stroke:none" font-size="29.6" fill="#000" text-anchor="middle">Midn</text>
</g>
<line x1="309.6" x2="2354.2" y1="2847.3" y2="2847.3" stroke="#000" stroke-width="4.45"/>
<line x1="922.8" x2="922.8" y1="2847.3" y2="2858.76" stroke="#333" stroke-width="4.45"/>
<text transform="translate(922.8 2893.6) scale(1 0.96)" font-size="36.67" fill="#4D4D4D" text-anchor="middle">80150000</text>
<line x1="1538.5" x2="1538.5" y1="2847.3" y2="2858.76" stroke="#333" stroke-width="4.45"/>
<text transform="translate(1538.5 2893.6) scale(1 0.96)" font-size="36.67" fill="#4D4D4D" text-anchor="middle">80155000</text>
<line x1="2154.3" x2="2154.3" y1="2847.3" y2="2858.76" stroke="#333" stroke-width="4.45"/>
<text transform="translate(2154.3 2893.6) scale(1 0.96)" font-size="36.67" fill="#4D4D4D" text-anchor="middle">80160000</text>
<text transform="translate(1331.5 2944.5) scale(1 1.0)" font-size="45.83" fill="#000" text-anchor="middle">chr10 position (bp)</text>
</svg></body></html>
